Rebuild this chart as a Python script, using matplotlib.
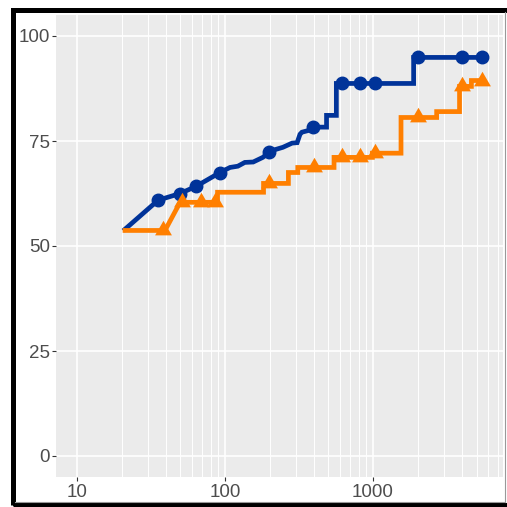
import matplotlib
matplotlib.use("Agg")
import matplotlib.pyplot as plt
from matplotlib.ticker import NullFormatter, FixedLocator
from matplotlib.patches import Rectangle
from matplotlib.lines import Line2D

# step paths (corner points) for the two series
blue_x = [21.1, 35.3, 49.7, 63.7, 92.5, 108, 122, 136, 155, 180, 198, 211,
          246, 284, 307, 321, 331, 375, 393, 485, 485, 565, 565, 1880, 1880, 5452]
blue_y = [54.0, 60.9, 62.5, 64.2, 67.5, 68.7, 69.0, 69.9, 70.0, 71.1, 72.3, 72.8,
          73.5, 74.5, 74.6, 76.6, 77.1, 77.6, 78.3, 78.3, 81.1, 81.1, 88.7, 88.7, 94.9, 94.9]

orange_x = [21.1, 39.3, 49.7, 89, 89, 182, 182, 268, 268, 310, 310, 545, 545,
            990, 990, 1545, 1545, 2690, 2690, 3840, 3840, 4620, 4620, 5537]
orange_y = [53.7, 53.7, 60.4, 60.4, 62.8, 62.8, 64.9, 64.9, 67.5, 67.5, 68.7, 68.7, 71.1,
            71.1, 72.1, 72.1, 80.6, 80.6, 82.0, 82.0, 88.0, 88.0, 89.4, 89.4]

# highlighted points
blue_pts_x = [35.3, 49.7, 63.7, 92.5, 198, 393, 617, 817, 1031, 2014, 3994, 5452]
blue_pts_y = [60.9, 62.5, 64.2, 67.5, 72.3, 78.3, 88.7, 88.7, 88.7, 94.9, 94.9, 94.9]
orange_pts_x = [38, 51, 69, 85, 198, 400, 620, 820, 1030, 2015, 3990, 5450]
orange_pts_y = [53.7, 60.4, 60.4, 60.4, 64.9, 68.7, 71.1, 71.1, 72.1, 80.6, 88.0, 89.4]

y_ticks = [0, 25, 50, 75, 100]
x_ticks = [10, 100, 1000]
x_labels = ["10", "100", "1000"]
x_minor = [20, 30, 40, 50, 60, 70, 80, 90,
           200, 300, 400, 500, 600, 700, 800, 900,
           2000, 3000, 4000, 5000, 6000, 7000]

BLUE = "#003399"
ORANGE = "#FF7F00"

# triangle centred on its centroid
tri = [(0, 0.577), (-0.5, -0.289), (0.5, -0.289), (0, 0.577)]

plt.rcParams["font.family"] = ["Liberation Sans", "DejaVu Sans"]

fig = plt.figure(figsize=(5.07, 5.07), dpi=100)
ax = fig.add_axes([56 / 507, 30 / 507, 447 / 507, 462 / 507])
ax.set_facecolor("#EBEBEB")

ax.set_xscale("log")
ax.set_xlim(7.21, 7551)
ax.set_ylim(-5, 105)

ax.xaxis.set_major_locator(FixedLocator(x_ticks))
ax.set_xticklabels(x_labels)
ax.xaxis.set_minor_locator(FixedLocator(x_minor))
ax.xaxis.set_minor_formatter(NullFormatter())
ax.set_yticks(y_ticks)

ax.grid(True, which="major", color="white", linewidth=1.2)
ax.grid(True, which="minor", axis="x", color="white", linewidth=0.7)
ax.set_axisbelow(True)

ax.tick_params(axis="both", which="major", length=3, width=0.8, color="#333333",
               labelsize=13.5, labelcolor="#4D4D4D")
ax.tick_params(axis="x", which="major", pad=2)
ax.tick_params(axis="y", which="major", pad=1.5)
ax.tick_params(axis="x", which="minor", length=0)

for s in ax.spines.values():
    s.set_visible(False)

ax.plot(blue_x, blue_y, color=BLUE, linewidth=3.4, solid_joinstyle="miter", zorder=3)
ax.plot(blue_pts_x, blue_pts_y, linestyle="none", marker="o", markersize=9,
        color=BLUE, zorder=4)
ax.plot(orange_x, orange_y, color=ORANGE, linewidth=3.4, solid_joinstyle="miter", zorder=3)
ax.plot(orange_pts_x, orange_pts_y, linestyle="none", marker=tri, markersize=14,
        color=ORANGE, markeredgewidth=0, zorder=4)

# outer frame
fig.patches.append(Rectangle((12.5 / 507, 2.5 / 507), 510 / 507, 495 / 507,
                             transform=fig.transFigure, fill=False,
                             edgecolor="black", linewidth=3.6))
fig.lines.append(Line2D([505 / 507, 505 / 507], [5 / 507, 495 / 507],
                        transform=fig.transFigure, color="#999999", linewidth=0.8))
fig.lines.append(Line2D([15 / 507, 505 / 507], [5 / 507, 5 / 507],
                        transform=fig.transFigure, color="#999999", linewidth=0.8))

fig.savefig("out.png", dpi=100)
